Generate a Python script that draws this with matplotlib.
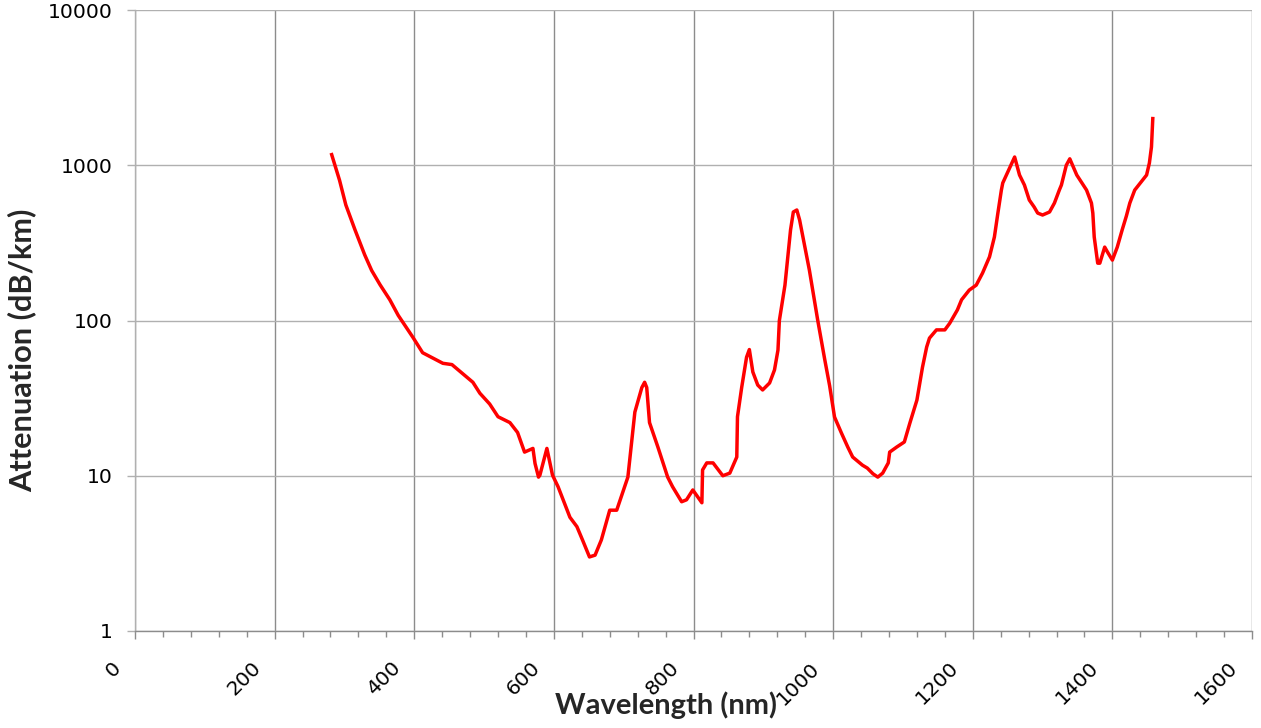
import matplotlib
matplotlib.use("Agg")
import matplotlib.pyplot as plt
from matplotlib.ticker import FixedLocator, NullFormatter, NullLocator
from matplotlib.transforms import ScaledTranslation, blended_transform_factory

wavelength_nm = [281, 293, 302, 315, 329, 339, 351, 365, 377, 391, 398, 412, 441, 454, 468,
                 484, 494, 508, 520, 537, 548, 558, 570, 573, 578, 580, 590, 598, 606, 623,
                 633, 641, 651, 659, 668, 680, 690, 706, 716, 726, 730, 733, 737, 749, 763,
                 770, 783, 790, 799, 812, 813, 819, 828, 842, 852, 862, 863, 869, 876, 880,
                 885, 892, 899, 909, 916, 921, 923, 931, 939, 943, 948, 952, 959, 966, 973,
                 978, 988, 995, 1002, 1012, 1021, 1028, 1042, 1049, 1057, 1064, 1071, 1079, 1081,
                 1091, 1102, 1110, 1120, 1128, 1134, 1138, 1148, 1160, 1167, 1178, 1184, 1195,
                 1205, 1214, 1224, 1231, 1236, 1241, 1243, 1250, 1260, 1267, 1274, 1281, 1288,
                 1293, 1300, 1310, 1317, 1324, 1327, 1334, 1339, 1349, 1363, 1370, 1372, 1374,
                 1377, 1379, 1382, 1389, 1393, 1400, 1407, 1414, 1420, 1425, 1432, 1449, 1453,
                 1456, 1458]
attenuation_db_km = [1200, 800, 555, 385, 265, 210, 170, 136, 108, 87, 78, 62, 53, 52, 46,
                     40, 34, 29, 24, 22, 19, 14.2, 15, 12, 9.8, 10.1, 15, 10.1, 8.5, 5.4,
                     4.7, 3.86, 3.0, 3.08, 3.86, 6.0, 6.0, 9.8, 25.7, 37, 40, 37, 22, 15.3, 9.8,
                     8.5, 6.8, 7.0, 8.1, 6.7, 10.9, 12.1, 12.1, 10, 10.4, 13.2, 24, 37, 58, 65,
                     46.6, 38.4, 35.7, 39.6, 48, 64.5, 100, 169, 383, 500, 515, 444, 306, 211, 136,
                     100, 56, 38, 23.9, 18.8, 15.3, 13.2, 11.7, 11.2, 10.3, 9.8, 10.4, 12.1, 14.2,
                     15.3, 16.5, 21.9, 30.7, 50, 67.5, 77, 87, 87, 96, 117, 136, 157,
                     169, 202, 257, 345, 492, 692, 769, 900, 1130, 865, 746, 597, 538,
                     492, 478, 500, 571, 692, 746, 1000, 1100, 865, 692, 571, 492, 345,
                     272, 234, 234, 297, 276, 245, 297, 383, 470, 571, 692, 865, 1033,
                     1312, 2050]

x_ticks = [0, 200, 400, 600, 800, 1000, 1200, 1400, 1600]
x_tick_labels = ["0", "200", "400", "600", "800", "1000", "1200", "1400", "1600"]
x_minor_ticks = [v for v in range(0, 1601, 40) if v % 200 != 0]
y_ticks = [1, 10, 100, 1000, 10000]
y_tick_labels = ["1", "10", "100", "1000", "10000"]

W, H, DPI = 1261, 728, 100
fig = plt.figure(figsize=(W / DPI, H / DPI), dpi=DPI)
ax = fig.add_axes([135 / W, (H - 631) / H, (1252 - 135) / W, (631 - 10) / H])

ax.set_yscale("log")
ax.set_xlim(0, 1600)
ax.set_ylim(1, 10000)

vgrid = "#8c8c8c"
hgrid = "#b0b0b0"
for xv in x_ticks:
    ax.axvline(xv, color=vgrid, lw=1.0, zorder=1)
for yv in y_ticks:
    ax.axhline(yv, color=hgrid, lw=1.0, zorder=1)

ax.plot(wavelength_nm, attenuation_db_km, color="#ff0000", lw=2.5,
        solid_joinstyle="round", solid_capstyle="butt", zorder=3)

for s in ["top", "right"]:
    ax.spines[s].set_visible(False)
ax.spines["left"].set_color(hgrid)
ax.spines["bottom"].set_color(vgrid)
ax.spines["left"].set_linewidth(1.0)
ax.spines["bottom"].set_linewidth(1.0)

ax.xaxis.set_major_locator(FixedLocator(x_ticks))
ax.xaxis.set_minor_locator(FixedLocator(x_minor_ticks))
ax.xaxis.set_major_formatter(NullFormatter())
ax.yaxis.set_major_locator(FixedLocator(y_ticks))
ax.yaxis.set_minor_locator(NullLocator())
ax.set_yticklabels(y_tick_labels)
ax.tick_params(axis="x", which="major", direction="out", length=5.5, width=1.0, color=vgrid)
ax.tick_params(axis="x", which="minor", direction="out", length=4.0, width=1.0, color=vgrid)
ax.tick_params(axis="y", which="major", direction="out", length=5.8, width=1.0, color=hgrid,
               pad=10, labelsize=14, labelcolor="#000000")
for lab in ax.get_yticklabels():
    lab.set_fontfamily("DejaVu Sans")

# rotated x tick labels
trans = blended_transform_factory(ax.transData, ax.transAxes)
xlabels = []
for xv, txt in zip(x_ticks, x_tick_labels):
    t = ax.text(xv, 0, txt, rotation=45, ha="right", va="center", rotation_mode="anchor",
                fontsize=14, family="DejaVu Sans", color="#000000",
                transform=trans + ScaledTranslation(-17 / DPI, -34 / DPI, fig.dpi_scale_trans),
                clip_on=False)
    xlabels.append(t)

ylab = fig.text(22 / W, 1 - 350 / H, "Attenuation (dB/km)", rotation=90, ha="center",
                va="center", fontsize=21, fontweight="bold", family="Lato", color="#262626")
xlab = fig.text(666 / W, (H - 714) / H, "Wavelength (nm)", ha="center", va="baseline",
                fontsize=21, fontweight="bold", family="Lato", color="#262626")

# fit font sizes to the reference text extents
fig.canvas.draw()
r = fig.canvas.get_renderer()
bb = xlab.get_window_extent(r)
xlab.set_fontsize(21 * 222 / bb.width)
bb = ylab.get_window_extent(r)
ylab.set_fontsize(21 * 284 / bb.height)
lab10000 = [l for l in ax.get_yticklabels() if l.get_text() == "10000"]
if lab10000:
    bb = lab10000[0].get_window_extent(r)
    if bb.width > 0:
        fs = 14 * 64 / bb.width
        ax.tick_params(axis="y", labelsize=fs)
        for t in xlabels:
            t.set_fontsize(fs)

fig.savefig("out.png", dpi=DPI)
